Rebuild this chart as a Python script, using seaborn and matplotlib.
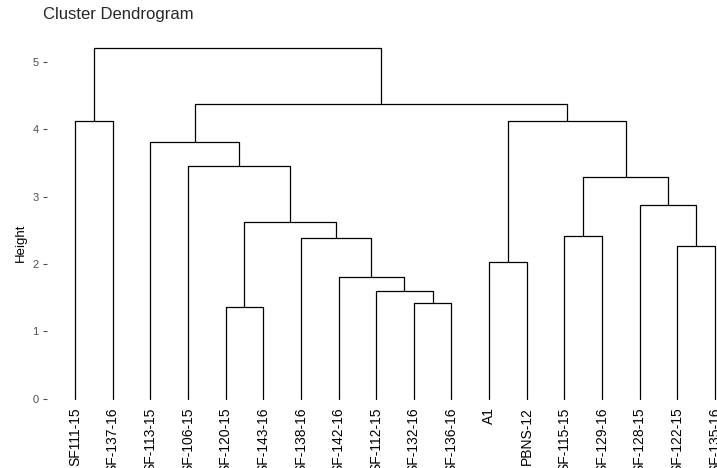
import matplotlib
matplotlib.use("Agg")
import matplotlib.pyplot as plt
import seaborn as sns
import pandas as pd

# Leaf labels in dendrogram order
leaves = ["SF111-15", "SF-137-16", "SF-113-15", "SF-106-15", "SF-120-15", "SF-143-16",
          "SF-138-16", "SF-142-16", "SF-112-15", "SF-132-16", "SF-136-16", "A1",
          "PBNS-12", "SF-115-15", "SF-129-16", "SF-128-15", "SF-122-15", "SF-135-16"]

# Tree merges (children precede parents): name, left child, right child, height
merge_names = ["m0", "m1", "m2", "m3", "m4", "m5", "m6", "m7", "m8", "m9", "m10",
               "m11", "m12", "m13", "m14", "m15", "m16"]
merge_left = ["SF-132-16", "SF-120-15", "SF-112-15", "SF-142-16", "A1", "SF-122-15",
              "SF-138-16", "SF-115-15", "SF-128-15", "m1", "SF-106-15", "m7",
              "SF-113-15", "SF111-15", "m4", "m12", "m13"]
merge_right = ["SF-136-16", "SF-143-16", "m0", "m2", "PBNS-12", "SF-135-16",
               "m3", "SF-129-16", "m5", "m6", "m9", "m8",
               "m10", "SF-137-16", "m11", "m14", "m15"]
merge_height = [1.42, 1.36, 1.60, 1.81, 2.03, 2.27, 2.39, 2.42, 2.88, 2.63, 3.46,
                3.29, 3.81, 4.12, 4.12, 4.38, 5.21]

yticks = [0, 1, 2, 3, 4, 5]

sns.set_theme(style="white")
plt.rcParams["font.family"] = ["Liberation Sans", "DejaVu Sans"]

fig = plt.figure(figsize=(7.17, 4.68), dpi=100)
ax = fig.add_axes([47 / 717, 1 - 402 / 468, 1 - 47 / 717, (402 - 35) / 468])

pos = {name: i for i, name in enumerate(leaves)}
hgt = {name: 0.0 for name in leaves}
rows = []
for k, (name, a, b, h) in enumerate(zip(merge_names, merge_left, merge_right, merge_height)):
    xa, xb = pos[a], pos[b]
    ya, yb = hgt[a], hgt[b]
    rows.append(dict(seg=k, x=xa, y=ya))
    rows.append(dict(seg=k, x=xa, y=h))
    rows.append(dict(seg=k, x=xb, y=h))
    rows.append(dict(seg=k, x=xb, y=yb))
    pos[name] = (xa + xb) / 2
    hgt[name] = h
df = pd.DataFrame(rows)

sns.lineplot(data=df, x="x", y="y", units="seg", estimator=None, sort=False,
             color="black", linewidth=0.9, ax=ax)

ax.set_xlim(-0.74, 17.05)
ax.set_ylim(-0.05, 5.4)
ax.set_yticks(yticks)
ax.set_yticklabels([str(t) for t in yticks], fontsize=8, color="#4d4d4d")
ax.set_xticks(range(len(leaves)))
ax.set_xticklabels(leaves, rotation=90, fontsize=10, color="black", va="top", ha="center")
ax.tick_params(axis="y", length=3, width=0.8, color="#4d4d4d", pad=3, left=True)
ax.tick_params(axis="x", length=0, pad=4)
for s in ax.spines.values():
    s.set_visible(False)
ax.set_xlabel("")
ax.set_ylabel("Height", fontsize=9.5, color="black")
ax.yaxis.set_label_coords(-(47 - 27) / (717 - 47), (402 - 243) / 367)
ax.grid(False)

fig.text(43 / 717, 1 - 14 / 468, "Cluster Dendrogram", fontsize=12, ha="left", va="center")

fig.savefig("out.png", dpi=100)
